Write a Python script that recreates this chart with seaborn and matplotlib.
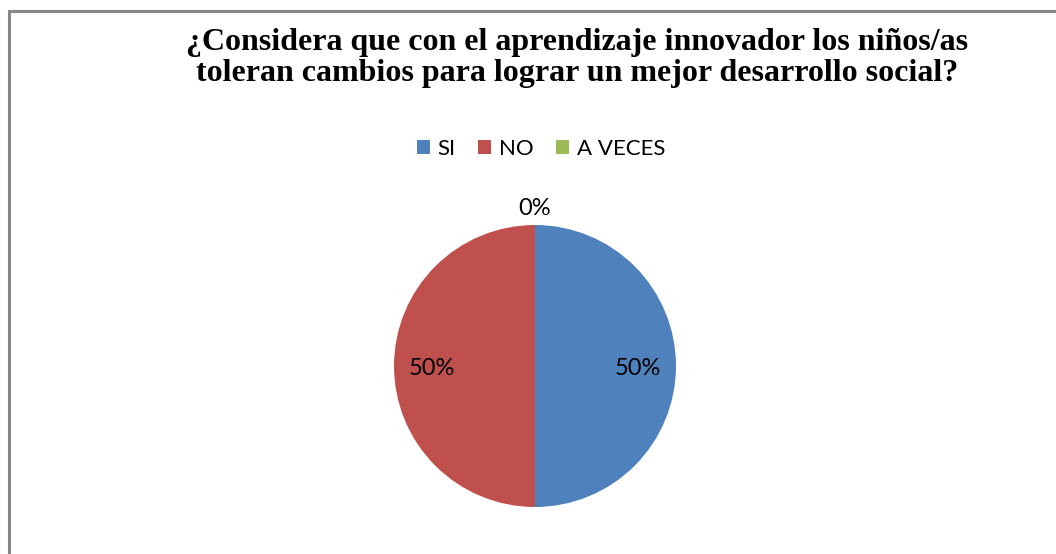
import matplotlib
matplotlib.use("Agg")
import matplotlib.pyplot as plt
import matplotlib.patches as mpatches
import seaborn as sns
import numpy as np

categories = ["SI", "NO", "A VECES"]
values = [50, 50, 0]
colors = ["#4F81BD", "#C0504D", "#9BBB59"]
title_lines = ["¿Considera que con el aprendizaje innovador los niños/as",
               "toleran cambios para lograr un mejor desarrollo social?"]

sns.set_theme(style="white")
plt.rcParams["font.family"] = ["Lato", "DejaVu Sans"]
plt.rcParams["text.color"] = "black"

W, H = 1056, 554
fig = plt.figure(figsize=(W / 100, H / 100), dpi=100)
fig.patch.set_facecolor("white")

# chart border (only left and top are visible in the crop)
border = mpatches.Rectangle((9 / W, -0.5), 2.0, 0.5 + (H - 11) / H, transform=fig.transFigure,
                            fill=False, edgecolor="#868686", linewidth=2.2, clip_on=False)
fig.patches.append(border)

for line, base in zip(title_lines, [50, 81]):
    fig.text(577 / W, 1 - base / H, line, ha="center", va="baseline", fontsize=23,
             fontweight="bold", family=["Liberation Serif", "DejaVu Serif"], color="black")

cx, cy, r = 535, 366, 141
ax = fig.add_axes([(cx - r) / W, (H - cy - r) / H, 2 * r / W, 2 * r / H])
wedges, _ = ax.pie(values, colors=colors, startangle=90, counterclock=False,
                   wedgeprops=dict(linewidth=0))
ax.set_xlim(-1, 1)
ax.set_ylim(-1, 1)
ax.set_aspect("equal")
ax.axis("off")

total = sum(values)
for w, v in zip(wedges, values):
    th = np.deg2rad((w.theta1 + w.theta2) / 2)
    d = 0.73 if v > 0 else 1.12
    ax.text(d * np.cos(th), d * np.sin(th) - (0.02 if v > 0 else 0), f"{v / total * 100:.0f}%",
            ha="center", va="center", fontsize=17, color="black", clip_on=False)

handles = [mpatches.Patch(facecolor=c, edgecolor="none") for c in colors]
fig.legend(handles, categories, loc="center", bbox_to_anchor=(541 / W, 1 - 149 / H),
           ncol=3, frameon=False, fontsize=16, handlelength=0.6, handleheight=0.6,
           handletextpad=0.35, columnspacing=1.0, labelcolor="black")

fig.savefig("out.png", dpi=100, facecolor="white")
